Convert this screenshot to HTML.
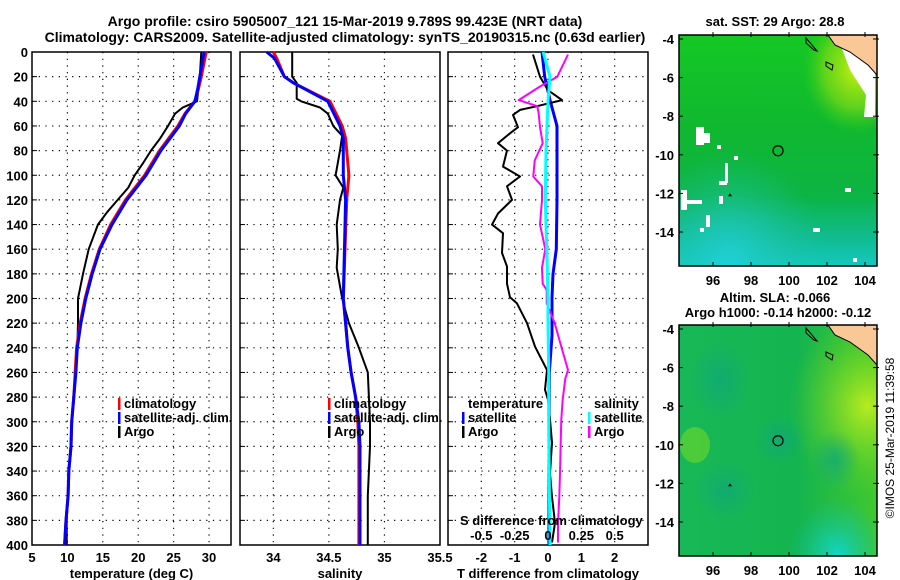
<!DOCTYPE html>
<html><head><meta charset="utf-8">
<style>
html,body{margin:0;padding:0;background:#fff;}
svg{display:block;font-family:"Liberation Sans",sans-serif;font-weight:bold;}
</style></head>
<body>
<svg id="fig" width="900" height="580" viewBox="0 0 900 580" xmlns="http://www.w3.org/2000/svg">
<defs>
<linearGradient id="sstg" x1="0" y1="0" x2="0" y2="1">
<stop offset="0" stop-color="#14c824"/><stop offset="0.4" stop-color="#10b830"/><stop offset="0.7" stop-color="#0cb444"/><stop offset="0.88" stop-color="#10bc90"/><stop offset="1" stop-color="#14c8c0"/>
</linearGradient>
<radialGradient id="sstY" cx="0.9" cy="0.15" r="0.28"><stop offset="0" stop-color="#c8f010" stop-opacity="1"/><stop offset="0.6" stop-color="#90e010" stop-opacity="0.6"/><stop offset="1" stop-color="#40d010" stop-opacity="0"/></radialGradient>
<radialGradient id="sstC" cx="0.25" cy="1" r="0.5"><stop offset="0" stop-color="#20d0d8" stop-opacity="1"/><stop offset="1" stop-color="#20c0a0" stop-opacity="0"/></radialGradient>
<linearGradient id="slag" x1="0" y1="0" x2="1" y2="0"><stop offset="0" stop-color="#18b858"/><stop offset="0.6" stop-color="#14b450"/><stop offset="1" stop-color="#40c830"/></linearGradient>
<radialGradient id="slaY" cx="0.95" cy="0.35" r="0.4"><stop offset="0" stop-color="#b8ec20" stop-opacity="1"/><stop offset="1" stop-color="#60d020" stop-opacity="0"/></radialGradient>
<radialGradient id="slaC" cx="0.8" cy="1" r="0.25"><stop offset="0" stop-color="#10d8c8" stop-opacity="1"/><stop offset="1" stop-color="#10c0a0" stop-opacity="0"/></radialGradient>
<radialGradient id="slaT" cx="0.5" cy="0.5" r="0.5"><stop offset="0" stop-color="#10a878" stop-opacity="0.8"/><stop offset="1" stop-color="#10a878" stop-opacity="0"/></radialGradient>
</defs>
<g id="titles" font-size="14">
<text x="345" y="26" text-anchor="middle">Argo profile: csiro 5905007_121 15-Mar-2019 9.789S 99.423E (NRT data)</text>
<text x="345" y="42" text-anchor="middle">Climatology: CARS2009. Satellite-adjusted climatology: synTS_20190315.nc (0.63d earlier)</text>
</g>
<g id="plots"></g>
<g id="maps"></g>
<text transform="translate(894,438) rotate(-90)" text-anchor="middle" font-size="12" font-weight="normal">©IMOS 25-Mar-2019 11:39:58</text>
</svg>
<script>
// ---- data ----
const tDepthClim = [0,20,30,40,50,60,70,80,100,120,140,160,180,200,220,240,260,280,300,320,340,360,380,400];
const tempSat = [29.3,28.7,28.4,28.0,26.7,25.8,24.5,23.2,21.1,18.4,16.3,14.6,13.5,12.6,11.9,11.4,11.2,10.9,10.6,10.5,10.2,10.1,9.8,9.6];
const tempClim = [29.6,28.9,28.5,28.0,26.6,25.6,24.3,23.0,20.9,18.2,16.1,14.5,13.4,12.5,11.8,11.3,11.1,10.9,10.6,10.5,10.2,10.1,9.8,9.6];
const argoDepth = [0,20,40,45,50,60,70,80,90,100,110,120,130,140,160,180,200,220,240,260,280,300,320,340,360,380,400];
const tempArgo = [28.9,28.7,28.3,26.3,25.2,24.2,23.1,21.8,20.7,19.5,18.6,17.1,15.6,14.3,13.0,12.2,11.5,11.5,11.4,11.2,10.9,10.6,10.5,10.2,10.1,9.9,9.9];
const sDepthClim = [0,5,20,25,40,60,70,80,100,120,200,220,240,260,280,300,320,400];
const salSat = [33.94,34.01,34.10,34.18,34.49,34.60,34.63,34.63,34.63,34.65,34.63,34.65,34.67,34.70,34.74,34.77,34.78,34.78];
const salClim = [34.00,34.03,34.10,34.18,34.51,34.62,34.65,34.66,34.68,34.66,34.63,34.65,34.67,34.70,34.74,34.76,34.77,34.77];
const salArgoDepth = [0,20,25,38,40,45,50,60,68,80,100,110,120,140,160,175,190,200,220,240,250,260,280,300,320,340,360,400];
const salArgo = [34.17,34.17,34.21,34.21,34.25,34.42,34.49,34.54,34.62,34.60,34.56,34.63,34.60,34.57,34.58,34.57,34.60,34.62,34.68,34.77,34.81,34.85,34.86,34.87,34.87,34.86,34.85,34.85];
const dDepth = [2,20,31,39,44,47,51,61,66,74,80,93,101,109,120,131,140,147,163,174,188,199,204,220,239,258,274,282,298,317,342,361,382,398];
const tDiffArgo = [-0.45,-0.24,0,0.42,-0.33,-0.84,-1.05,-0.9,-1.14,-1.5,-1.23,-1.35,-0.84,-1.23,-1.08,-1.5,-1.68,-1.35,-1.38,-1.23,-1.23,-1.14,-0.93,-0.63,-0.39,-0.03,-0.09,0,0.06,0.12,0.06,0.12,0.21,0.12];
const tsDepth = [0,20,39,60,80,120,160,180,199,230,260,300,350,400];
const tDiffSat = [-0.18,-0.1,0.06,0.27,0.27,0.27,0.25,0.15,0.12,0.12,0.04,0.03,0.03,0.03];
const ssDepth = [0,20,40,80,120,160,199,220,260,300,350,400];
const sDiffSat = [-0.037,0.015,0,-0.015,-0.02,-0.01,0,0,0.005,0.005,0.01,0.015];
const smDepth = [2,20,28,39,44,50,61,74,88,101,109,120,140,160,175,188,193,204,220,239,258,265,282,298,317,342,361,382,398];
const sDiffArgo = [0.15,0.07,-0.06,-0.22,-0.08,-0.07,-0.06,-0.04,-0.1,-0.11,-0.045,-0.045,-0.06,-0.02,-0.045,-0.04,-0.01,-0.01,0.05,0.1,0.15,0.13,0.11,0.1,0.095,0.09,0.085,0.075,0.075];
const depthTicks = [0,20,40,60,80,100,120,140,160,180,200,220,240,260,280,300,320,340,360,380,400];
const tempTicks = [5,10,15,20,25,30];
const salTicks = [34,34.5,35,35.5];
const tdTicks = [-2,-1,0,1,2];
const sdTicks = [-0.5,-0.25,0,0.25,0.5];
const sdTickLabels = ['-0.5','-0.25','0','0.25','0.5'];
const latTicks = [-4,-6,-8,-10,-12,-14];
const lonTicks = [96,98,100,102,104];

// ---- helpers ----
const NS='http://www.w3.org/2000/svg';
function mk(tag,attrs,parent,text){const e=document.createElementNS(NS,tag);for(const k in attrs)e.setAttribute(k,attrs[k]);if(text!==undefined)e.textContent=text;parent.appendChild(e);return e;}
const top0=52, bot=545;
const yD = d => top0 + d*(bot-top0)/400;
const plots=document.getElementById('plots');

function panel(name,x0,x1,vmin,vmax,ticks,tickLabels,title,showY){
  const g=mk('g',{},plots);
  
  
  const sx=v=>x0+(v-vmin)*(x1-x0)/(vmax-vmin);
  depthTicks.forEach(d=>{
    if(d>0&&d<400){const l=mk('line',{x1:x0,x2:x1,y1:yD(d),y2:yD(d),stroke:'#000','stroke-width':1.2,'stroke-dasharray':'1.2 5.5'},g);
    }
    mk('line',{x1:x0,x2:x0+5,y1:yD(d),y2:yD(d),stroke:'#000'},g);
    if(showY){const t=mk('text',{x:x0-4,y:yD(d)+5,'text-anchor':'end','font-size':13},g,String(d));
      }
  });
  ticks.forEach((v,i)=>{
    const X=sx(v);
    if(X>x0+1&&X<x1-1){const l=mk('line',{x1:X,x2:X,y1:top0,y2:bot,stroke:'#000','stroke-width':1.2,'stroke-dasharray':'1.2 5.5'},g);
    }
    const t=mk('text',{x:X,y:562,'text-anchor':'middle','font-size':13},g,tickLabels[i]);
    
  });
  const r=mk('rect',{x:x0,y:top0,width:x1-x0,height:bot-top0,fill:'none',stroke:'#000','stroke-width':1.5},g);
  
  const t=mk('text',{x:(x0+x1)/2,y:578,'text-anchor':'middle','font-size':13},g,title);
  
  return {g,sx};
}
function line(p,vals,depths,color,w,name){
  const pts=vals.map((v,i)=>p.sx(v).toFixed(1)+','+yD(depths[i]).toFixed(1)).join(' ');
  const e=mk('polyline',{points:pts,fill:'none',stroke:color,'stroke-width':w,'stroke-linejoin':'round'},p.g);
  
  
}
function legend(g,x,y,items){
  items.forEach((it,i)=>{
    if(it[0]){mk('rect',{x:x,y:y+i*14-10,width:2.5,height:12,fill:it[0]},g);}
    const t=mk('text',{x:x+6,y:y+i*14,'font-size':13},g,it[1]);
    
    
  });
}

const p1=panel('temperature-panel',32,231,5,33.1,tempTicks,tempTicks.map(String),'temperature (deg C)',true);
line(p1,tempArgo,argoDepth,'#000',2,'temp-argo-line');
line(p1,tempClim,tDepthClim,'#f00',3,'temp-climatology-line');
line(p1,tempSat,tDepthClim,'#00f',3,'temp-satellite-line');
legend(p1.g,118,408,[['#f00','climatology'],['#00f','satellite-adj. clim.'],['#000','Argo']]);

const p2=panel('salinity-panel',240,440,33.7,35.5,salTicks,salTicks.map(String),'salinity',false);
line(p2,salArgo,salArgoDepth,'#000',2,'sal-argo-line');
line(p2,salClim,sDepthClim,'#f00',3,'sal-climatology-line');
line(p2,salSat,sDepthClim,'#00f',3,'sal-satellite-line');
legend(p2.g,328,408,[['#f00','climatology'],['#00f','satellite-adj. clim.'],['#000','Argo']]);

const p3=panel('difference-panel',448,648,-3,3,tdTicks,tdTicks.map(String),'T difference from climatology',false);
const p3s={g:p3.g,sx:v=>p3.sx(v*4)};
line(p3,tDiffSat,tsDepth,'#00f',3,'tdiff-satellite-line');
line(p3,tDiffArgo,dDepth,'#000',2,'tdiff-argo-line');
line(p3s,sDiffArgo,smDepth,'#f0f',2,'sdiff-argo-line');
line(p3s,sDiffSat,ssDepth,'#0ff',3,'sdiff-satellite-line');
legend(p3.g,462,408,[[null,'temperature'],['#00f','satellite'],['#000','Argo']]);
legend(p3.g,588,408,[[null,'salinity'],['#0ff','satellite'],['#f0f','Argo']]);
{const t=mk('text',{x:460,y:525,'font-size':13},p3.g,'S difference from climatology');
}
sdTicks.forEach((v,i)=>{const t=mk('text',{x:p3s.sx(v),y:540,'text-anchor':'middle','font-size':13},p3.g,sdTickLabels[i]);
});

// ---- maps ----
const maps=document.getElementById('maps');
const mx0=679,mx1=877;
const lonX=l=>713+(l-96)*19;
function map(name,y0,y1,latY0,titleLines,kind){
  const g=mk('g',{},maps);
  
  
  const latY=l=>latY0+(-4-l)*19.3;
  mk('rect',{x:mx0,y:y0,width:mx1-mx0,height:y1-y0,fill:kind==='sst'?'url(#sstg)':'url(#slag)'},g);
  if(kind==='sst'){
    mk('rect',{x:mx0,y:y0,width:mx1-mx0,height:y1-y0,fill:'url(#sstY)'},g);
    mk('rect',{x:mx0,y:y0,width:mx1-mx0,height:y1-y0,fill:'url(#sstC)'},g);
    [[696,127,8,18],[702,133,8,10],[717,145,4,4],[725,163,3,20],[719,181,8,4],[681,190,6,20],[684,200,18,4],[719,196,4,8],[706,215,4,12],[845,188,6,4],[813,228,7,4],[734,156,4,4],[853,258,4,4],[700,228,4,4]].forEach(r=>{
      mk('rect',{x:r[0],y:r[1],width:r[2],height:r[3],fill:'#fff'},g);});
    mk('path',{d:`M838 ${y0+3} L852 ${y0+15} L870 ${y0+30} L875 ${y0+38} L875 ${y0+82} L864 ${y0+82} L866 ${y0+60} L850 ${y0+35} Z`,fill:'#fff'},g);
  } else {
    mk('rect',{x:mx0,y:y0,width:mx1-mx0,height:y1-y0,fill:'url(#slaY)'},g);
    mk('rect',{x:mx0,y:y0,width:mx1-mx0,height:y1-y0,fill:'url(#slaC)'},g);
    [[720,380,30,40],[780,440,25,25],[835,460,25,30],[725,490,30,30]].forEach(c=>{
      mk('ellipse',{cx:c[0],cy:c[1],rx:c[2],ry:c[3],fill:'url(#slaT)'},g);});
    mk('ellipse',{cx:695,cy:445,rx:15,ry:18,fill:'#70d828',opacity:0.6},g);
  }
  // land
  mk('path',{d:`M828 ${y0} L877 ${y0} L877 ${y0+40} L868 ${y0+30} L850 ${y0+17} L835 ${y0+10} Z`,fill:'#fac896',stroke:'#000','stroke-width':1},g);
  mk('path',{d:`M806 ${y0+3} L812 ${y0+10} L817 ${y0+16} L814 ${y0+15} L806 ${y0+8} Z`,fill:'none',stroke:'#000'},g);
  mk('path',{d:`M826 ${y0+27} L833 ${y0+30} L832 ${y0+35} L826 ${y0+31} Z`,fill:'none',stroke:'#000'},g);
  mk('circle',{cx:lonX(99.423),cy:latY(-9.789),r:5,fill:'none',stroke:'#000','stroke-width':1.2},g);
  mk('path',{d:`M728 ${latY(-12.15)} l2 -3 l2 3 Z`,fill:'#000'},g);
  const fr=mk('rect',{x:mx0,y:y0,width:mx1-mx0,height:y1-y0,fill:'none',stroke:'#000','stroke-width':1.5},g);
  
  latTicks.forEach(l=>{const Y=latY(l);
    mk('line',{x1:mx0,x2:mx0+4,y1:Y,y2:Y,stroke:'#000'},g);mk('line',{x1:mx1-4,x2:mx1+2,y1:Y,y2:Y,stroke:'#000'},g);
    const t=mk('text',{x:mx0-5,y:Y+5,'text-anchor':'end','font-size':13},g,String(l));
    });
  lonTicks.forEach(l=>{const X=lonX(l);
    mk('line',{x1:X,x2:X,y1:y0-3,y2:y0+2,stroke:'#000'},g);mk('line',{x1:X,x2:X,y1:y1,y2:y1-4,stroke:'#000'},g);
    const t=mk('text',{x:X,y:y1+19,'text-anchor':'middle','font-size':13},g,String(l));
    });
  titleLines.forEach((s,i)=>{const t=mk('text',{x:(i===1?778:775),y:(kind==='sst'?26:302)+i*15,'text-anchor':'middle','font-size':13},g,s);
    });
}
map('sst-map',35,266,39,['sat. SST: 29 Argo: 28.8'],'sst');
map('sla-map',325,556,329,['Altim. SLA: -0.066','Argo h1000: -0.14 h2000: -0.12'],'sla');
</script>
</body></html>
